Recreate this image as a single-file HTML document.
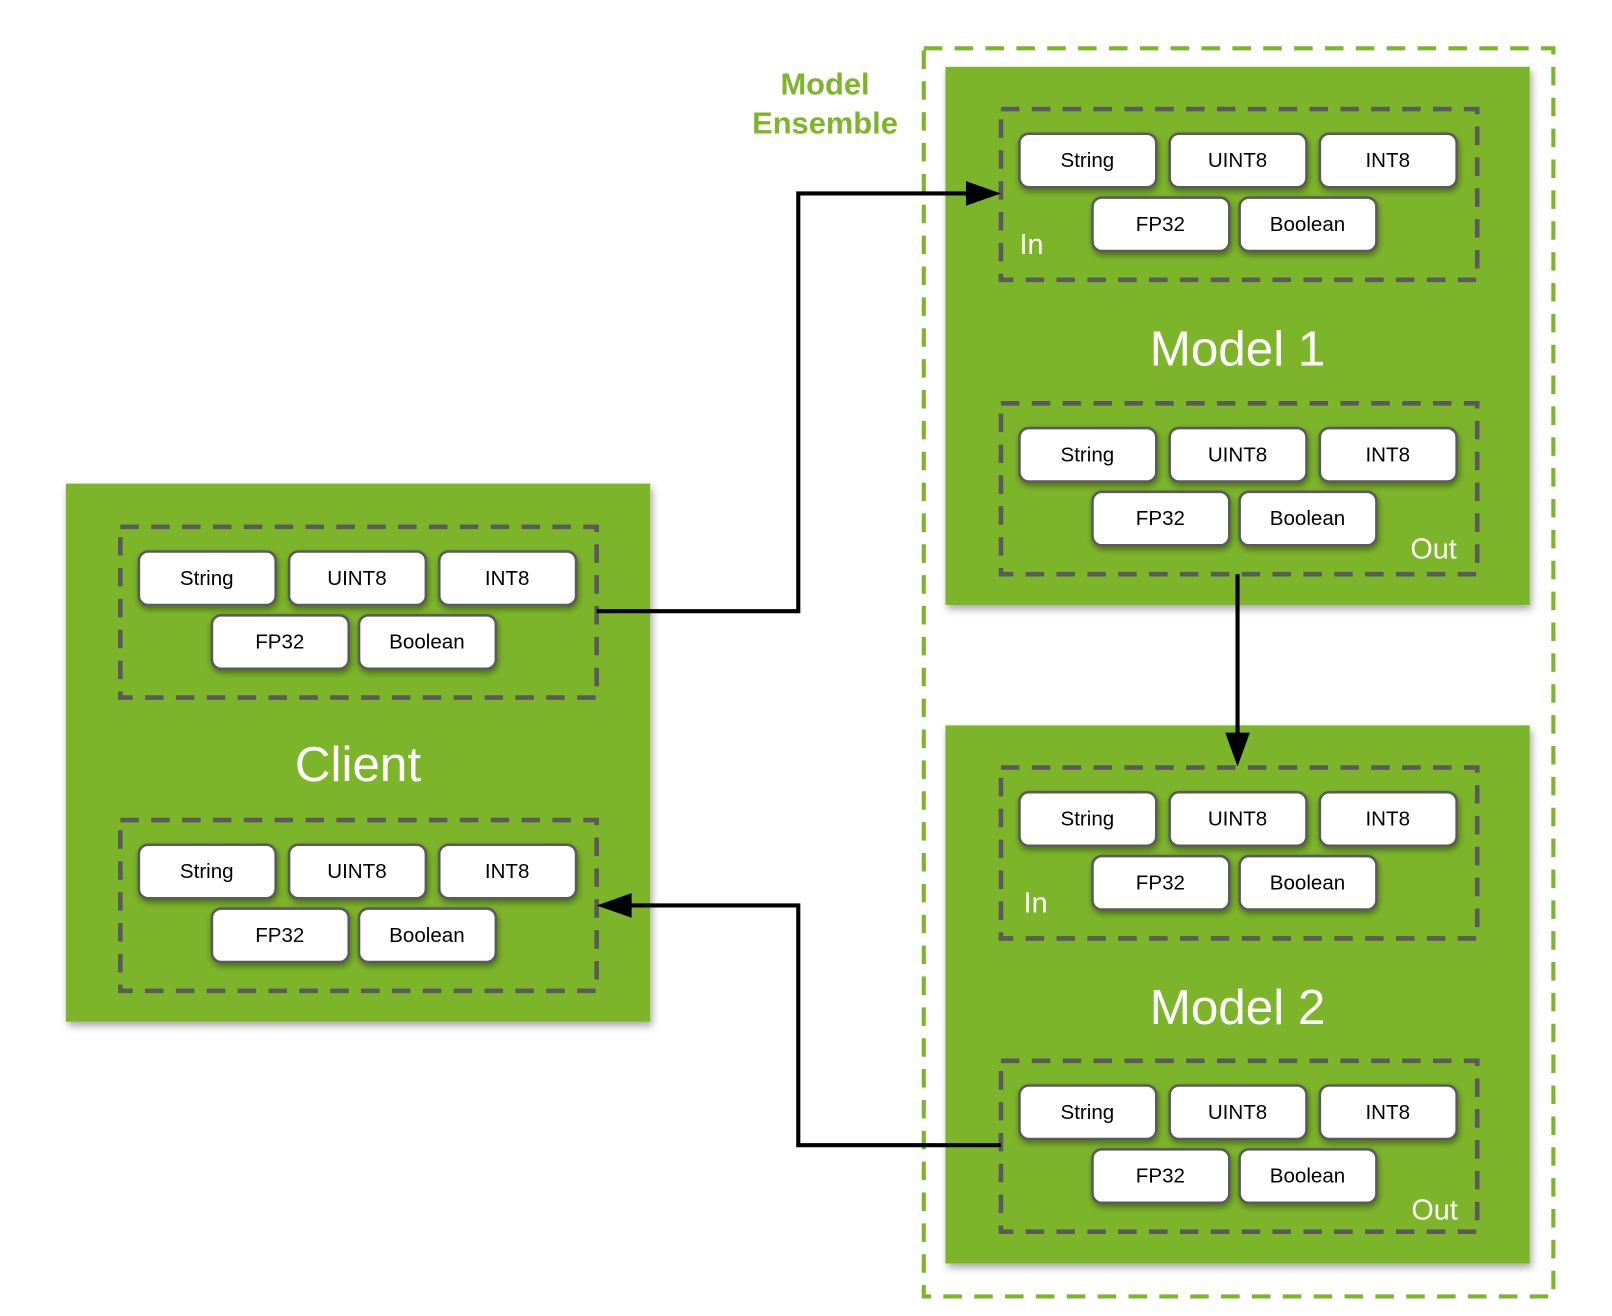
<!DOCTYPE html>
<html><head><meta charset="utf-8"><style>
html,body{margin:0;padding:0;background:#fff;}
svg{display:block;}
text{font-family:"Liberation Sans",Arial,sans-serif;}
.b rect{fill:#fff;stroke:#5a5a5a;stroke-width:2.5;}
.b text{font-size:20px;fill:#000;text-anchor:middle;dominant-baseline:central;}
.d{fill:none;stroke:#5a5a5a;stroke-width:4.5;stroke-dasharray:18,12;}
.g{fill:#7db52a;}
.w{fill:#fff;}
</style></head><body>
<svg width="1612" height="1316" viewBox="0 0 1567 1279" preserveAspectRatio="none" xmlns="http://www.w3.org/2000/svg">
<defs>
<filter id="sh" x="-10%" y="-10%" width="120%" height="120%"><feDropShadow dx="2" dy="4" stdDeviation="4" flood-color="#000" flood-opacity="0.35"/></filter>
<filter id="bs" x="-20%" y="-20%" width="140%" height="160%"><feDropShadow dx="1" dy="3" stdDeviation="3" flood-color="#000" flood-opacity="0.4"/></filter>
<g id="set">
<rect class="d" x="0" y="0" width="463" height="166"/>
<g class="b" filter="url(#bs)">
<rect x="18" y="24" width="133" height="52" rx="9"/><rect x="164" y="24" width="133" height="52" rx="9"/><rect x="310" y="24" width="133" height="52" rx="9"/>
<rect x="89" y="86" width="133" height="52" rx="9"/><rect x="232" y="86" width="133" height="52" rx="9"/>
</g>
</g>
</defs>
<rect x="898" y="47" width="612" height="1213" fill="none" stroke="#7db52a" stroke-width="4" stroke-dasharray="18,12"/>
<text x="802" y="92" font-size="30" font-weight="bold" fill="#7db52a" text-anchor="middle">Model</text>
<text x="802" y="130" font-size="30" font-weight="bold" fill="#7db52a" text-anchor="middle">Ensemble</text>

<rect class="g" x="919" y="65" width="568" height="523" filter="url(#sh)"/>
<rect class="g" x="919" y="705" width="568" height="523" filter="url(#sh)"/>
<rect class="g" x="64" y="470" width="568" height="523" filter="url(#sh)"/>

<g transform="translate(973,106)"><use href="#set"/><g class="b"><text x="84" y="50">String</text><text x="230" y="50">UINT8</text><text x="376" y="50">INT8</text><text x="155" y="112">FP32</text><text x="298" y="112">Boolean</text></g></g>
<g transform="translate(973,392)"><use href="#set"/><g class="b"><text x="84" y="50">String</text><text x="230" y="50">UINT8</text><text x="376" y="50">INT8</text><text x="155" y="112">FP32</text><text x="298" y="112">Boolean</text></g></g>
<g transform="translate(973,746)"><use href="#set"/><g class="b"><text x="84" y="50">String</text><text x="230" y="50">UINT8</text><text x="376" y="50">INT8</text><text x="155" y="112">FP32</text><text x="298" y="112">Boolean</text></g></g>
<g transform="translate(973,1031)"><use href="#set"/><g class="b"><text x="84" y="50">String</text><text x="230" y="50">UINT8</text><text x="376" y="50">INT8</text><text x="155" y="112">FP32</text><text x="298" y="112">Boolean</text></g></g>
<g transform="translate(117,512)"><use href="#set"/><g class="b"><text x="84" y="50">String</text><text x="230" y="50">UINT8</text><text x="376" y="50">INT8</text><text x="155" y="112">FP32</text><text x="298" y="112">Boolean</text></g></g>
<g transform="translate(117,797)"><use href="#set"/><g class="b"><text x="84" y="50">String</text><text x="230" y="50">UINT8</text><text x="376" y="50">INT8</text><text x="155" y="112">FP32</text><text x="298" y="112">Boolean</text></g></g>

<text class="w" x="991" y="247" font-size="28">In</text>
<text class="w" x="1371" y="543" font-size="28">Out</text>
<text class="w" x="995" y="887" font-size="28">In</text>
<text class="w" x="1372" y="1185" font-size="28">Out</text>
<text class="w" x="1203" y="355" font-size="48" text-anchor="middle">Model 1</text>
<text class="w" x="1203" y="995" font-size="48" text-anchor="middle">Model 2</text>
<text class="w" x="348" y="759" font-size="48" text-anchor="middle">Client</text>

<g fill="none" stroke="#000" stroke-width="4">
<polyline points="580,594 776,594 776,188 945,188"/>
<polyline points="1203,558 1203,718"/>
<polyline points="973,1113 776,1113 776,880 608,880"/>
</g>
<polygon points="973,188 939,176 939,200" fill="#000"/>
<polygon points="1203,745 1191,712 1215,712" fill="#000"/>
<polygon points="580,880 614,868 614,892" fill="#000"/>
</svg>
</body></html>
